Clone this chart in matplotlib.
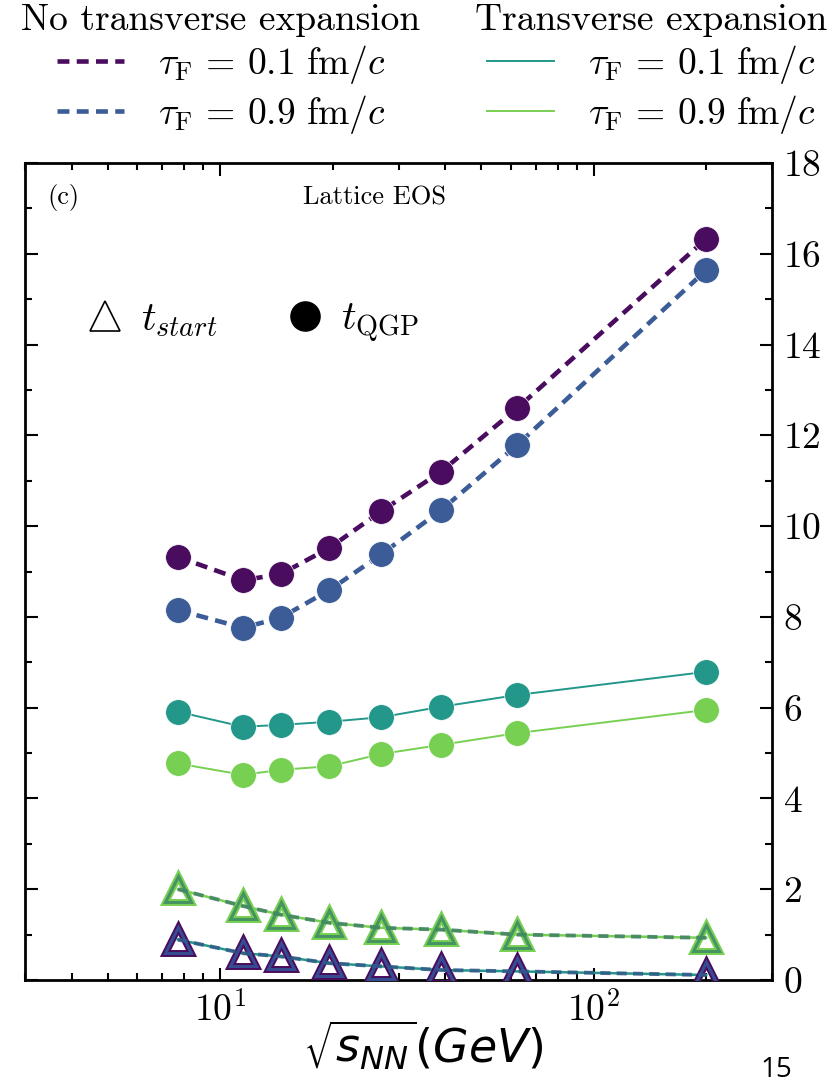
import matplotlib
matplotlib.use("Agg")
import matplotlib.pyplot as plt
from matplotlib.lines import Line2D
from matplotlib.ticker import MultipleLocator, NullFormatter, LogLocator

plt.rcParams['font.family'] = 'serif'
plt.rcParams['font.serif'] = ['cmr10']
plt.rcParams['mathtext.fontset'] = 'cm'
plt.rcParams['axes.formatter.use_mathtext'] = True
plt.rcParams['axes.unicode_minus'] = False

# ---- data ----
energies = [7.7, 11.5, 14.5, 19.6, 27, 39, 62.4, 200]

tqgp_notrans_01 = [9.32, 8.81, 8.94, 9.52, 10.33, 11.2, 12.6, 16.33]
tqgp_notrans_09 = [8.15, 7.76, 7.98, 8.59, 9.38, 10.35, 11.79, 15.64]
tqgp_trans_01 = [5.91, 5.58, 5.62, 5.69, 5.79, 6.02, 6.28, 6.79]
tqgp_trans_09 = [4.77, 4.52, 4.63, 4.71, 4.98, 5.18, 5.44, 5.95]

tstart_01 = [0.89, 0.59, 0.52, 0.37, 0.30, 0.22, 0.19, 0.11]
tstart_09 = [2.00, 1.63, 1.44, 1.26, 1.15, 1.11, 1.00, 0.93]

legend_labels = [r'$\tau_{\mathrm{F}}\,=\,0.1\ \mathrm{fm}/c$',
                 r'$\tau_{\mathrm{F}}\,=\,0.9\ \mathrm{fm}/c$']
c_purple = '#4a0c5e'
c_blue = '#3b5c96'
c_teal = '#22978a'
c_green = '#78d052'

W, H = 837, 1089
fig = plt.figure(figsize=(W / 100, H / 100), dpi=100)
ax = fig.add_axes([25 / W, 1 - 980 / H, (772 - 25) / W, (980 - 163) / H])

lw_d = 3.3
dash = (2.6, 1.6)
ms_c = 18.5
ms_t = 19

# transverse (solid)
ax.plot(energies, tqgp_trans_01, '-', color=c_teal, lw=1.4, marker='o',
        ms=ms_c, mec='white', mew=0.5, zorder=3)
ax.plot(energies, tqgp_trans_09, '-', color=c_green, lw=1.4, marker='o',
        ms=ms_c, mec='white', mew=0.5, zorder=3)
# no transverse (dashed)
ax.plot(energies, tqgp_notrans_01, color=c_purple, lw=lw_d, dashes=dash,
        marker='o', ms=ms_c, mec='white', mew=0.5, zorder=3)
ax.plot(energies, tqgp_notrans_09, color=c_blue, lw=lw_d, dashes=dash,
        marker='o', ms=ms_c, mec='white', mew=0.5, zorder=3)

# t_start triangles
ax.plot(energies, tstart_09, '-', color=c_green, lw=1.8, marker='^', ms=ms_t,
        mfc='none', mec=c_green, mew=5, zorder=4)
ax.plot(energies, tstart_09, color='#3f7f63', lw=2.8, dashes=dash, marker='^', ms=ms_t,
        mfc='none', mec='#3e8a66', mew=2.2, zorder=5, alpha=0.85)
ax.plot(energies, tstart_01, '-', color=c_teal, lw=1.8, marker='^', ms=ms_t,
        mfc='none', mec=c_purple, mew=5, zorder=4)
ax.plot(energies, tstart_01, color='#2f5a86', lw=2.8, dashes=dash, marker='^', ms=ms_t,
        mfc='none', mec='#33589a', mew=2.2, zorder=5, alpha=0.85)

ax.set_xscale('log')
ax.set_xlim(3, 300)
ax.set_ylim(0, 18)

ax.yaxis.tick_right()
ax.yaxis.set_major_locator(MultipleLocator(2))
ax.yaxis.set_minor_locator(MultipleLocator(1))
ax.xaxis.set_major_locator(LogLocator(base=10, numticks=10))
ax.xaxis.set_minor_locator(LogLocator(base=10, subs=range(2, 10), numticks=20))
ax.xaxis.set_minor_formatter(NullFormatter())
ax.tick_params(which='both', direction='in', top=True, bottom=True, left=True,
               right=True, labelleft=False, labelright=True, width=1.5,
               labelsize=27)
ax.tick_params(which='major', length=9, pad=8)
ax.tick_params(which='minor', length=5)
for s in ax.spines.values():
    s.set_linewidth(2.0)

ax.text(0.03, 0.958, '(c)', transform=ax.transAxes, fontsize=19, va='center', ha='left')
ax.text(0.468, 0.958, 'Lattice EOS', transform=ax.transAxes, fontsize=19,
        va='center', ha='center')

# marker legend
mh = [Line2D([], [], ls='none', marker='^', ms=21, mfc='none', mec='black', mew=1.2),
      Line2D([], [], ls='none', marker='o', ms=21, color='black')]
ax.legend(mh, [r'$t_{start}$', r'$t_{\mathrm{QGP}}$'], ncol=2, frameon=False,
          loc='center left', bbox_to_anchor=(0.083, 0.804), borderpad=0,
          borderaxespad=0, handlelength=0.9, handletextpad=0.45,
          columnspacing=1.7, fontsize=29)

# top legends
h_n = [Line2D([], [], color=c_purple, lw=lw_d, dashes=dash),
       Line2D([], [], color=c_blue, lw=lw_d, dashes=dash)]
h_t = [Line2D([], [], color=c_teal, lw=1.4),
       Line2D([], [], color=c_green, lw=1.4)]
kw = dict(frameon=False, fontsize=27, title_fontsize=27, handlelength=1.8,
          handletextpad=0.9, labelspacing=0.2, borderpad=0, borderaxespad=0)
leg1 = fig.legend(h_n, legend_labels, title='No transverse expansion',
                  loc='upper center', bbox_to_anchor=(221 / W, 1 - 4 / H), **kw)
leg2 = fig.legend(h_t, legend_labels, title='Transverse expansion',
                  loc='upper center', bbox_to_anchor=(651 / W, 1 - 4 / H), **kw)
for lg in (leg1, leg2):
    lg._legend_box.sep = 4

fig.text(423 / W, 1 - 1045 / H, r'$\sqrt{s_{NN}}\left(GeV\right)$',
         math_fontfamily='dejavusans', fontsize=33, ha='center', va='center')
fig.text(776 / W, 1 - 1070 / H, '15', family='Open Sans', fontsize=20,
         ha='center', va='center')

fig.savefig('out.png', dpi=100)
